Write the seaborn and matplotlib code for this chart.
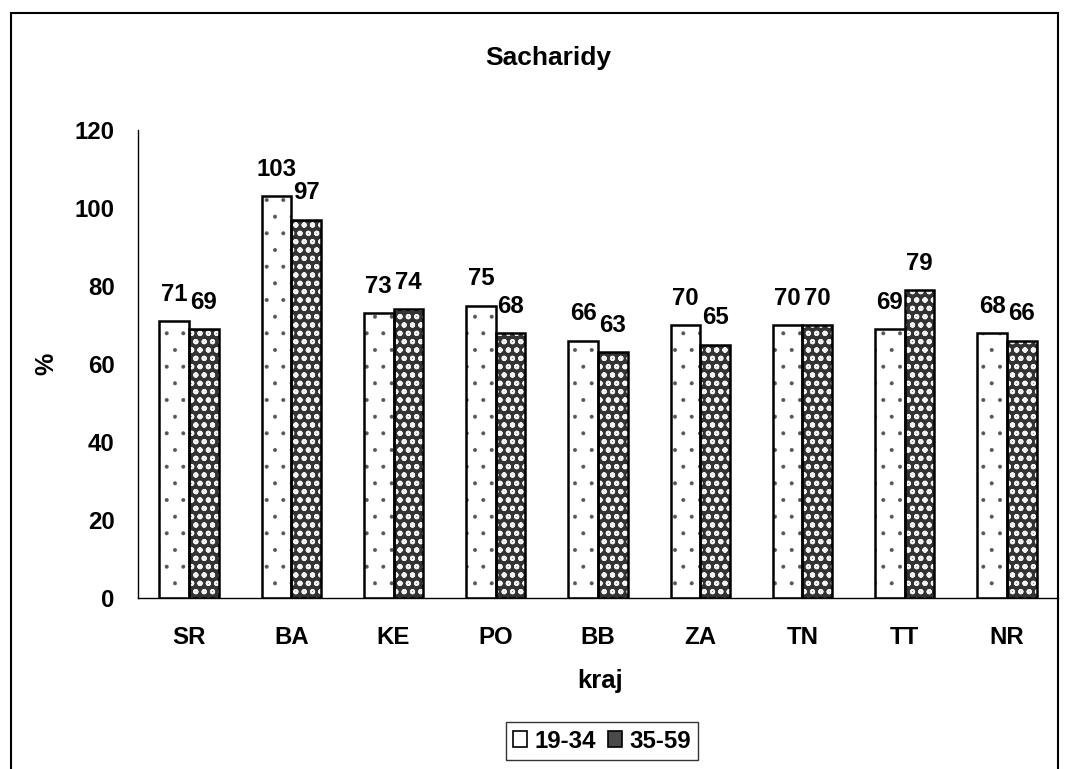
import matplotlib
matplotlib.use("Agg")
import matplotlib.pyplot as plt
from matplotlib.patches import Rectangle, Patch
import seaborn as sns
import pandas as pd

# Sacharidy intake (% of recommended) by region and age group
regions = ["SR", "BA", "KE", "PO", "BB", "ZA", "TN", "TT", "NR"]
group_labels = ["19-34", "35-59"]
values_19_34 = [71, 103, 73, 75, 66, 70, 70, 69, 68]
values_35_59 = [69, 97, 74, 68, 63, 65, 70, 79, 66]
y_ticks = [0, 20, 40, 60, 80, 100, 120]

df = pd.DataFrame({
    "kraj": regions * 2,
    "skupina": [group_labels[0]] * len(regions) + [group_labels[1]] * len(regions),
    "hodnota": values_19_34 + values_35_59,
})

sns.set_theme(style="white")
plt.rcParams["font.family"] = ["Liberation Sans", "DejaVu Sans"]
plt.rcParams["font.weight"] = "bold"
for key in ["text.color", "axes.labelcolor", "xtick.color", "ytick.color"]:
    plt.rcParams[key] = "black"

FS = 17.3
W, H, DPI = 1071, 769, 100
fig = plt.figure(figsize=(W / DPI, H / DPI), dpi=DPI)
fig.patch.set_facecolor("white")

left, right, top, bottom = 138, 1058, 130, 598
ax = fig.add_axes([left / W, 1 - bottom / H, (right - left) / W, (bottom - top) / H])

sns.barplot(data=df, x="kraj", y="hodnota", hue="skupina", order=regions,
            hue_order=group_labels, width=0.58, ax=ax, legend=False,
            palette=["white", "white"], saturation=1)

styles = [
    dict(face="white", hatch=".", hatch_color="#555555", hatch_lw=0.4),
    dict(face="#333333", hatch="oo", hatch_color="#f2f2f2", hatch_lw=1.4),
]

for cont, st, vals in zip(ax.containers, styles, [values_19_34, values_35_59]):
    for bar in cont:
        bar.set_facecolor(st["face"])
        bar.set_edgecolor(st["hatch_color"])
        bar.set_hatch(st["hatch"])
        if hasattr(bar, "set_hatch_linewidth"):
            bar.set_hatch_linewidth(st["hatch_lw"])
        else:
            bar._hatch_linewidth = st["hatch_lw"]
        bar.set_linewidth(0)
        x, y = bar.get_xy()
        ax.add_patch(Rectangle((x, y), bar.get_width(), bar.get_height(),
                               fill=False, edgecolor="black", linewidth=1.8, zorder=3))
    ax.bar_label(cont, labels=[str(v) for v in vals], padding=11,
                 fontsize=FS, fontweight="bold", color="black")

ax.set_ylim(0, 120)
ax.set_xlim(-0.5, len(regions) - 0.5)
ax.set_yticks(y_ticks)
ax.set_yticklabels([str(t) for t in y_ticks])
ax.set_xlabel("")
ax.set_ylabel("")

for s in ["top", "right"]:
    ax.spines[s].set_visible(False)
for s in ["left", "bottom"]:
    ax.spines[s].set_color("black")
    ax.spines[s].set_linewidth(1.0)

ax.tick_params(axis="y", which="major", direction="out", length=5.8, width=1,
               color="black", pad=11, labelsize=FS, labelcolor="black")
ax.set_xticks([i - 0.5 for i in range(len(regions) + 1)], minor=True)
ax.tick_params(axis="x", which="minor", direction="out", length=5, width=1, color="black")
ax.tick_params(axis="x", which="major", length=0, pad=20, labelsize=FS, labelcolor="black")
for lab in ax.get_xticklabels() + ax.get_yticklabels():
    lab.set_fontweight("bold")

# titles and axis names
fig.text(548 / W, 1 - 58 / H, "Sacharidy", ha="center", va="center",
         fontsize=19, fontweight="bold", color="black")
fig.text(600 / W, 1 - 681 / H, "kraj", ha="center", va="center",
         fontsize=18.5, fontweight="bold", color="black")
fig.text(46 / W, 1 - 364 / H, "%", ha="center", va="center", rotation=90,
         fontsize=18, fontweight="bold", color="black")

# legend
handles = [
    Patch(facecolor="white", edgecolor="black", linewidth=1.2, label=group_labels[0]),
    Patch(facecolor="#4a4a4a", edgecolor="black", linewidth=1.2, label=group_labels[1]),
]
leg = fig.legend(handles=handles, loc="center", bbox_to_anchor=(602 / W, 1 - 741 / H),
                 ncol=2, frameon=True, fancybox=False, shadow=False,
                 prop={"size": FS, "weight": "bold"}, handlelength=0.6,
                 handleheight=0.6, handletextpad=0.3, columnspacing=0.5,
                 borderpad=0.3, borderaxespad=0)
leg.get_frame().set_edgecolor("black")
leg.get_frame().set_linewidth(1.0)
for t in leg.get_texts():
    t.set_color("black")

# outer chart border
fig.add_artist(Rectangle((11 / W, -0.05), (1058 - 11) / W, 1 - 13 / H + 0.05,
                         transform=fig.transFigure, fill=False,
                         edgecolor="black", linewidth=1.5))

fig.savefig("out.png", dpi=DPI, facecolor="white")
